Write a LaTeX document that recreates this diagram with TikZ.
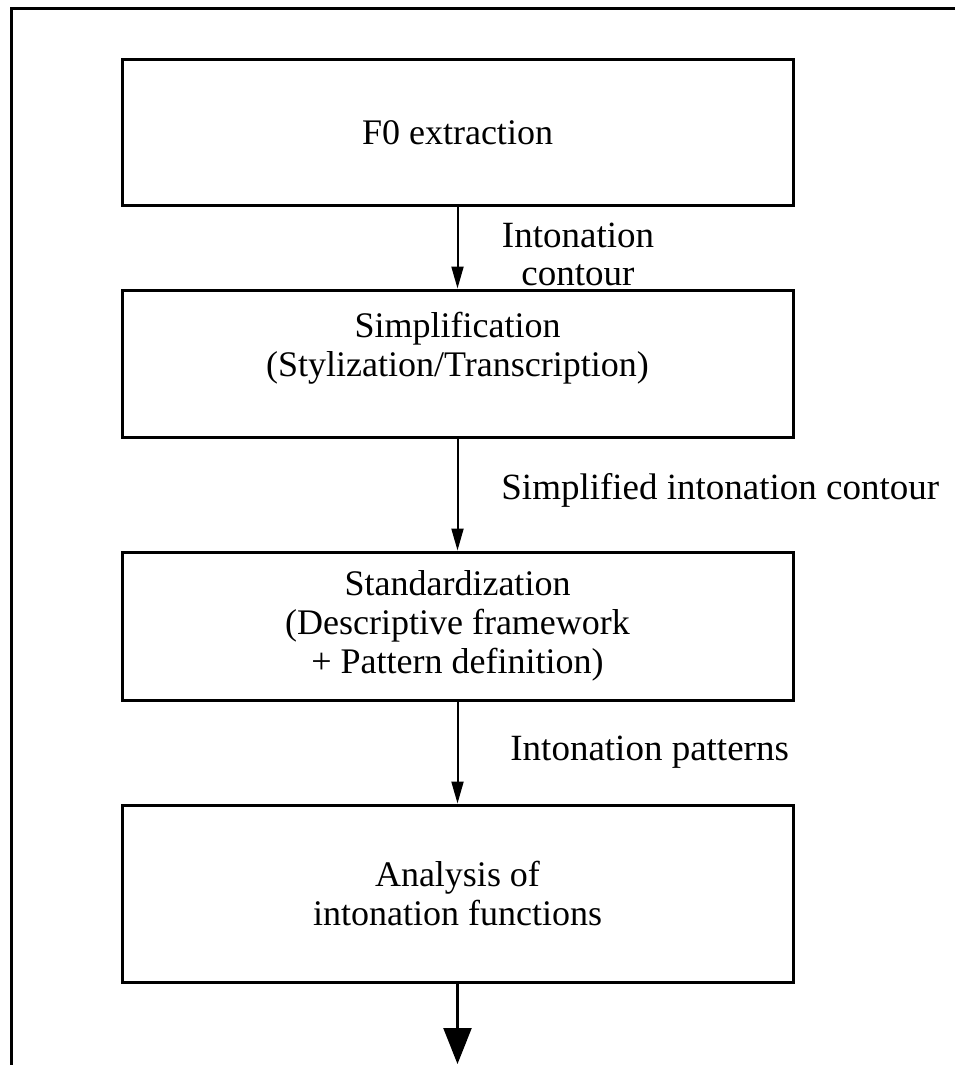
\documentclass[tikz,border=0pt]{standalone}
\usepackage{fontspec}
\setmainfont{Liberation Serif}
\usetikzlibrary{arrows.meta, positioning}
\tikzset{
    stage/.style={draw, line width=1.5pt, minimum width=335.5pt, align=center,
                  font=\fontsize{18}{19.5}\selectfont, inner sep=0pt},
    flow/.style={-{Triangle[length=11pt, width=6pt]}, line width=1pt},
    endflow/.style={-{Triangle[length=18pt, width=14pt]}, line width=1.2pt},
    flowlbl/.style={font=\fontsize{18.5}{19}\selectfont, align=center, inner sep=0pt},
    frame/.style={line width=1.5pt},
}
\begin{document}
\begin{tikzpicture}[x=0.5pt, y=-0.5pt]
\useasboundingbox (0,0) rectangle (954,1065);

% outer frame (open to the right and below)
\draw[frame] (11,1075) -- (11,9) -- (965,9);

\node[stage, minimum height=72.5pt] (extr) at (457.5,132.5) {F0 extraction};
\node[stage, minimum height=73.5pt] (simp) at (457.5,363.5)
    {Simplification\\(Stylization/Transcription)\\~};
\node[stage, minimum height=74pt]   (stand) at (457.5,626)
    {Standardization\\(Descriptive framework\\+ Pattern definition)};
\node[stage, minimum height=88.5pt] (anal) at (457.5,893.5)
    {Analysis of\\intonation functions};
\coordinate (out) at (457.5,1064);

\draw[flow] (extr) -- (simp);
\draw[flow] (simp) -- (stand);
\draw[flow] (stand) -- (anal);
\draw[endflow] (anal) -- (out);

\node[flowlbl] (l1) at (578,254) {Intonation\\contour};
\node[flowlbl, anchor=west] (l2) at (501,490) {Simplified intonation contour};
\node[flowlbl, anchor=west] (l3) at (510,752) {Intonation patterns};

\end{tikzpicture}
\end{document}
